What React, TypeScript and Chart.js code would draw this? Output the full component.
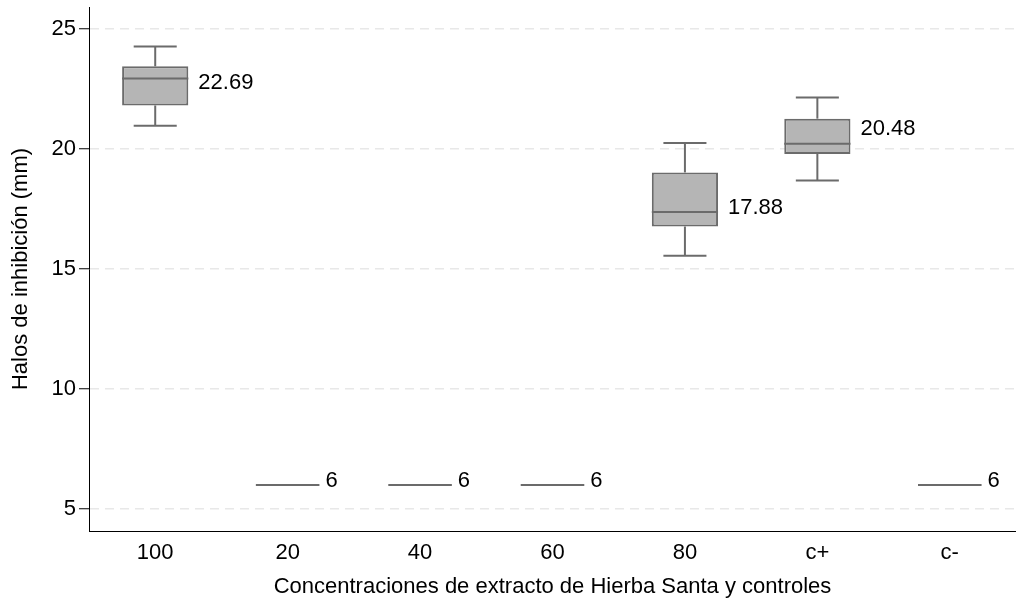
import React, { useEffect, useRef } from 'react';
import { Chart, registerables } from 'chart.js';

Chart.register(...registerables);

const categories = ['100', '20', '40', '60', '80', 'c+', 'c-'];
const whiskerHigh = [24.26, 6, 6, 6, 20.24, 22.13, 6];
const upperQuartile = [23.43, 6, 6, 6, 19.01, 21.25, 6];
const medians = [22.92, 6, 6, 6, 17.36, 20.21, 6];
const lowerQuartile = [21.8, 6, 6, 6, 16.76, 19.78, 6];
const whiskerLow = [20.96, 6, 6, 6, 15.54, 18.68, 6];
const meanLabels = ['22.69', '6', '6', '6', '17.88', '20.48', '6'];
const labelValues = [22.75, 6.17, 6.17, 6.17, 17.54, 20.83, 6.17];
const yTicks = [5, 10, 15, 20, 25];

const FONT = "'Liberation Sans', Arial, Helvetica, sans-serif";
const LINE = '#6b6b6b';
const FILL = '#b5b5b5';
const BOX_RATIO = 0.5;
const CAP_RATIO = 0.65;

export default function App() {
  const ref = useRef<HTMLCanvasElement>(null);

  useEffect(() => {
    if (!ref.current) return;

    const boxPlugin = {
      id: 'boxDetails',
      afterDatasetsDraw(chart: any) {
        const { ctx, scales } = chart;
        const x = scales.x;
        const y = scales.y;
        const step = x.getPixelForValue(1) - x.getPixelForValue(0);
        const boxW = step * BOX_RATIO;
        const capW = boxW * CAP_RATIO;
        const seg = (x1: number, y1: number, x2: number, y2: number) => {
          ctx.beginPath();
          ctx.moveTo(x1, y1);
          ctx.lineTo(x2, y2);
          ctx.stroke();
        };
        ctx.save();
        ctx.strokeStyle = LINE;
        ctx.lineWidth = 2;
        categories.forEach((_c, i) => {
          const cx = x.getPixelForValue(i);
          const flat = lowerQuartile[i] === upperQuartile[i];
          const lineW = flat ? boxW * 0.96 : boxW;
          if (!flat) {
            const yq3 = y.getPixelForValue(upperQuartile[i]);
            const yq1 = y.getPixelForValue(lowerQuartile[i]);
            const yhi = y.getPixelForValue(whiskerHigh[i]);
            const ylo = y.getPixelForValue(whiskerLow[i]);
            seg(cx, yq3, cx, yhi);
            seg(cx - capW / 2, yhi, cx + capW / 2, yhi);
            seg(cx, yq1, cx, ylo);
            seg(cx - capW / 2, ylo, cx + capW / 2, ylo);
          }
          const ym = y.getPixelForValue(medians[i]);
          seg(cx - lineW / 2, ym, cx + lineW / 2, ym);
          ctx.fillStyle = '#000';
          ctx.font = `22px ${FONT}`;
          ctx.textAlign = 'left';
          ctx.textBaseline = 'middle';
          ctx.fillText(meanLabels[i], cx + lineW / 2 + (flat ? 6 : 10), y.getPixelForValue(labelValues[i]));
        });
        ctx.restore();
      },
    };

    const chart = new Chart(ref.current, {
      type: 'bar',
      data: {
        labels: categories,
        datasets: [
          {
            data: categories.map((_c, i) =>
              lowerQuartile[i] === upperQuartile[i] ? null : [lowerQuartile[i], upperQuartile[i]]
            ) as any,
            backgroundColor: FILL,
            borderColor: LINE,
            borderWidth: 2,
            borderSkipped: false,
            categoryPercentage: 1,
            barPercentage: BOX_RATIO,
          },
        ],
      },
      options: {
        animation: false,
        responsive: true,
        maintainAspectRatio: false,
        layout: { padding: { top: 7, right: 0, left: 0, bottom: 0 } },
        plugins: {
          legend: { display: false },
          tooltip: { enabled: false },
        },
        scales: {
          x: {
            type: 'category',
            grid: { display: false, drawTicks: false },
            border: { display: true, color: '#000', width: 1 },
            ticks: { color: '#000', font: { family: FONT, size: 22 }, padding: 9 },
            title: {
              display: true,
              text: 'Concentraciones de extracto de Hierba Santa y controles',
              color: '#000',
              font: { family: FONT, size: 22 },
              padding: { top: 0, bottom: 2 },
            },
            afterFit: (s: any) => {
              s.height = 71;
              s.paddingLeft = 0;
              s.paddingRight = 0;
            },
          },
          y: {
            type: 'linear',
            min: 4.08,
            max: 25.9,
            afterBuildTicks: (s: any) => {
              s.ticks = yTicks.map((v) => ({ value: v }));
            },
            grid: {
              color: '#e8e8e8',
              lineWidth: 1.5,
              tickColor: '#000',
              tickLength: 10,
              tickWidth: 1,
            },
            border: { display: true, color: '#000', width: 1, dash: [9, 6] },
            ticks: { color: '#000', font: { family: FONT, size: 22 }, padding: 3 },
            title: {
              display: true,
              text: 'Halos de inhibición (mm)',
              color: '#000',
              font: { family: FONT, size: 22 },
              padding: { top: 8, bottom: 0 },
            },
            afterFit: (s: any) => {
              s.width = 89;
              s.paddingTop = 0;
              s.paddingBottom = 0;
            },
          },
        },
      },
      plugins: [boxPlugin],
    });

    return () => chart.destroy();
  }, []);

  return (
    <div style={{ position: 'absolute', left: 0, top: 0, width: 1016, height: 602, background: '#fff' }}>
      <canvas ref={ref} />
    </div>
  );
}
